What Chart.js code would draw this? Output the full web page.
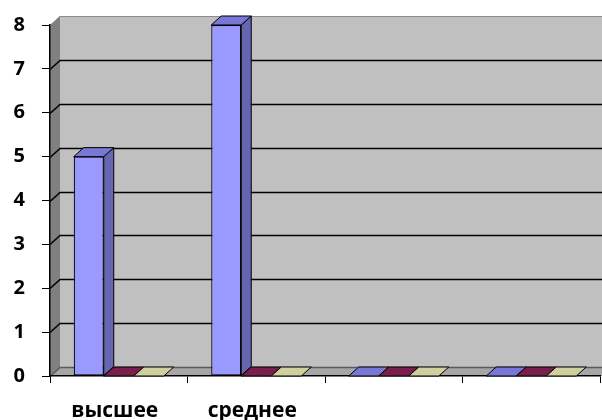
<!DOCTYPE html>
<html>
<head>
<meta charset="utf-8">
<script src="https://cdn.jsdelivr.net/npm/chart.js@4.4.1/dist/chart.umd.min.js"></script>
<style>
  html, body { margin: 0; padding: 0; background: #fff; }
  #wrap { width: 602px; height: 420px; }
</style>
</head>
<body>
<div id="wrap"><canvas id="levelchart"></canvas></div>
<script>
// categories and series
const categories = ['высшее', 'среднее', '', ''];
const series1 = [5, 8, 0, 0];
const series2 = [0, 0, 0, 0];
const series3 = [0, 0, 0, 0];
const yTicks = [0, 1, 2, 3, 4, 5, 6, 7, 8];

// excel-like palette: front, side, top
const palette = [
  { front: '#9999ff', side: '#6666b0', top: '#7777d6' },
  { front: '#993366', side: '#6b1f45', top: '#7a1f4b' },
  { front: '#ffffcc', side: '#b3b38f', top: '#cfcfa0' }
];

// depth of the fake 3d box
const DX = 10;
const DY = 9;

// walls, floor and gridlines behind the bars
const walls = {
  id: 'walls',
  beforeDraw(chart) {
    const c = chart.ctx;
    const a = chart.chartArea;
    const y = chart.scales.y;
    c.save();
    // left wall
    c.fillStyle = '#808080';
    c.beginPath();
    c.moveTo(a.left, a.top);
    c.lineTo(a.left + DX, a.top - DY);
    c.lineTo(a.left + DX, a.bottom - DY);
    c.lineTo(a.left, a.bottom);
    c.closePath();
    c.fill();
    // back wall
    c.fillStyle = '#c0c0c0';
    c.fillRect(a.left + DX, a.top - DY, a.right - a.left + 20, a.bottom - a.top);
    // floor
    c.fillStyle = '#a6a6a6';
    c.beginPath();
    c.moveTo(a.left, a.bottom);
    c.lineTo(a.left + DX, a.bottom - DY);
    c.lineTo(a.right + DX + 10, a.bottom - DY);
    c.lineTo(a.right + 10, a.bottom);
    c.closePath();
    c.fill();
    // gridlines
    yTicks.forEach((v) => {
      const py = Math.round(y.getPixelForValue(v)) + 0.5;
      const top = v === yTicks[yTicks.length - 1];
      c.strokeStyle = top ? '#8a8a8a' : (v === 0 ? '#5a5a5a' : '#000');
      c.lineWidth = top ? 1 : 1.6;
      c.beginPath();
      c.moveTo(a.left, py);
      c.lineTo(a.left + DX, py - DY);
      c.lineTo(a.right + 20, py - DY);
      c.stroke();
    });
    c.restore();
  }
};

// side and top faces of each column
const faces = {
  id: 'faces',
  afterDatasetsDraw(chart) {
    const c = chart.ctx;
    c.save();
    c.lineWidth = 1;
    c.strokeStyle = '#000';
    chart.data.datasets.forEach((ds, i) => {
      const meta = chart.getDatasetMeta(i);
      const col = palette[i];
      meta.data.forEach((bar) => {
        const x0 = bar.x - bar.width / 2;
        const x1 = bar.x + bar.width / 2;
        const top = bar.y;
        const bottom = bar.base;
        if (bottom - top > 1) {
          c.fillStyle = col.side;
          c.beginPath();
          c.moveTo(x1, top);
          c.lineTo(x1 + DX, top - DY);
          c.lineTo(x1 + DX, bottom - DY);
          c.lineTo(x1, bottom);
          c.closePath();
          c.fill();
          c.stroke();
        }
        c.fillStyle = col.top;
        c.beginPath();
        c.moveTo(x0, top);
        c.lineTo(x0 + DX, top - DY);
        c.lineTo(x1 + DX, top - DY);
        c.lineTo(x1, top);
        c.closePath();
        c.fill();
        c.stroke();
      });
    });
    c.restore();
  }
};

const ctx = document.getElementById('levelchart');

new Chart(ctx, {
  type: 'bar',
  data: {
    labels: categories,
    datasets: [
      { label: 'Ряд1', data: series1, backgroundColor: palette[0].front },
      { label: 'Ряд2', data: series2, backgroundColor: palette[1].front },
      { label: 'Ряд3', data: series3, backgroundColor: palette[2].front }
    ]
  },
  options: {
    responsive: true,
    maintainAspectRatio: false,
    animation: false,
    datasets: {
      bar: {
        categoryPercentage: 0.655,
        barPercentage: 1,
        borderColor: '#000',
        borderWidth: 1.2,
        borderSkipped: false
      }
    },
    layout: { padding: { top: 25, right: 2, left: 0, bottom: 0 } },
    plugins: {
      legend: { display: false },
      tooltip: { enabled: false }
    },
    scales: {
      x: {
        afterFit: (s) => { s.height = 44; s.paddingLeft = 0; s.paddingRight = 0; },
        grid: { offset: true, drawOnChartArea: false, drawTicks: true, tickLength: 7, color: '#000' },
        border: { display: true, color: '#000', width: 1.5 },
        ticks: {
          color: '#000',
          padding: 15,
          labelOffset: -4,
          maxRotation: 0,
          autoSkip: false,
          font: { family: 'Open Sans', size: 21, weight: 'bold' }
        }
      },
      y: {
        min: 0,
        max: 8,
        afterFit: (s) => { s.width = 50; s.paddingTop = 0; s.paddingBottom = 0; },
        grid: { drawOnChartArea: false, drawTicks: true, tickLength: 8, color: '#000' },
        border: { display: true, color: '#000', width: 1.5 },
        ticks: {
          stepSize: 1,
          color: '#000',
          padding: 17,
          font: { family: 'Open Sans', size: 20, weight: 'bold' }
        }
      }
    }
  },
  plugins: [walls, faces]
});
</script>
</body>
</html>
